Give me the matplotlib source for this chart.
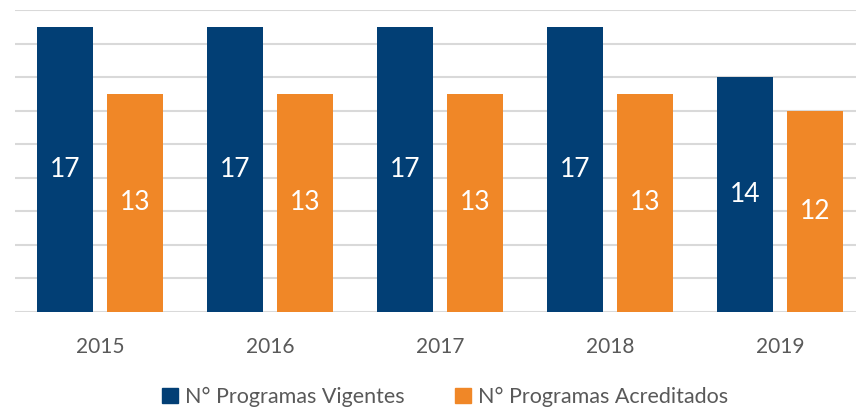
import numpy as np
import matplotlib.pyplot as plt
from matplotlib import patches

years = ["2015", "2016", "2017", "2018", "2019"]
vigentes = [17, 17, 17, 17, 14]
acreditados = [13, 13, 13, 13, 12]

blue = "#023F75"
orange = "#F08727"
grey_text = "#595959"

plt.rcParams["font.family"] = ["Lato", "DejaVu Sans"]

fig = plt.figure(figsize=(8.56, 4.07), dpi=100)
ax = fig.add_axes([15 / 856, (407 - 312) / 407, 850 / 856, 302 / 407])

x = np.arange(len(years))
w = 0.33
off = 0.206
b1 = ax.bar(x - off, vigentes, w, color=blue, zorder=2)
b2 = ax.bar(x + off, acreditados, w, color=orange, zorder=2)

for bars in (b1, b2):
    for r in bars:
        h = r.get_height()
        ax.text(r.get_x() + r.get_width() / 2, h / 2, str(int(h)),
                ha="center", va="center", color="white", fontsize=19)

ax.set_xlim(-0.5, len(years) - 0.5)
ax.set_ylim(0, 18)
ax.set_yticks(np.arange(0, 19, 2))
ax.yaxis.grid(True, color="#D9D9D9", linewidth=1.5, zorder=0)
ax.tick_params(axis="y", left=False, labelleft=False)
ax.tick_params(axis="x", length=0, pad=18, labelsize=15, labelcolor=grey_text)
ax.set_xticks(x)
ax.set_xticklabels(years)
for s in ax.spines.values():
    s.set_visible(False)

handles = [patches.Patch(color=blue, label="N° Programas Vigentes"),
           patches.Patch(color=orange, label="N° Programas Acreditados")]
fig.legend(handles=handles, loc="center", bbox_to_anchor=(445 / 856, 1 - 397 / 407),
           ncol=2, frameon=False, fontsize=15.5, labelcolor=grey_text,
           handlelength=0.75, handleheight=0.75, handletextpad=0.35, columnspacing=2.3)

fig.savefig("out.png", dpi=100)
